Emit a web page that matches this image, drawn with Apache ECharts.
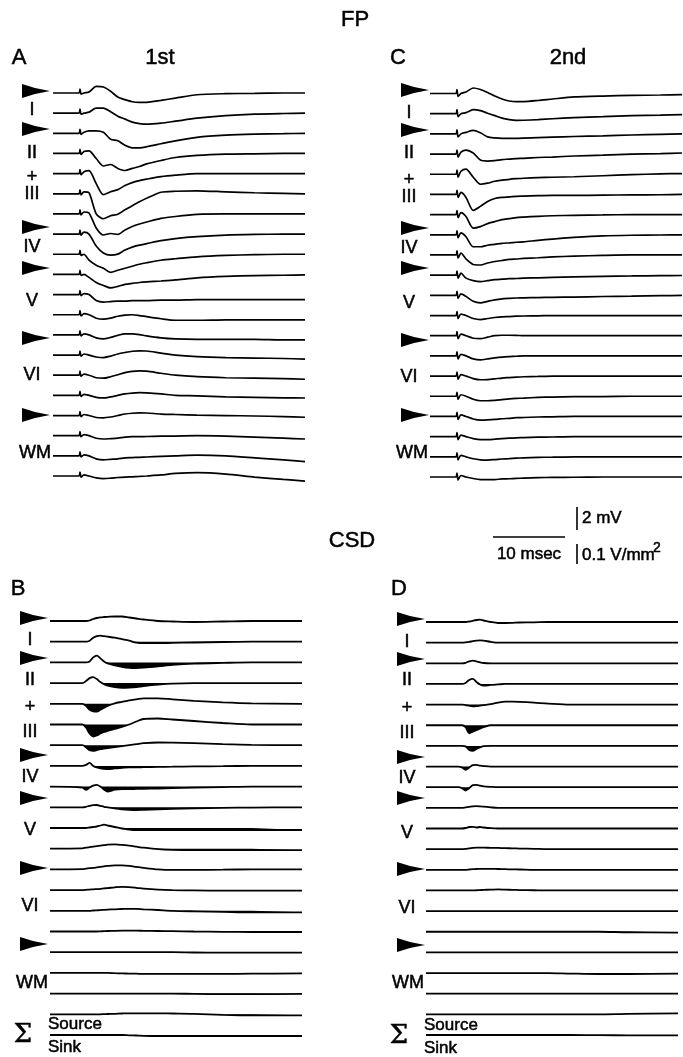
<!DOCTYPE html>
<html><head><meta charset="utf-8">
<script src="https://cdn.jsdelivr.net/npm/echarts@6/dist/echarts.min.js"></script>
<style>html,body{margin:0;padding:0;background:#fff}#c{width:683px;height:1057px}</style>
</head><body><div id="c"></div>
<script>
// ---- time bases (ms from start of sweep) ----
const FP_T  = [0,3.6,3.75,3.9,4.3,5,6,7,8,9,10,11,12,13,15,17,20,24,28,32,35];
const CSD_T = [0,4.5,5,5.5,6,6.5,7,7.5,8,9,10,11,12,13,15,17,20,24,28,35];

// ---- field potentials, 1st stimulus (mV, deviation from baseline), top to bottom ----
const FP_1ST = [
 [0,0,0.35,-0.09,0,0.09,0.57,0.52,0.15,-0.35,-0.58,-0.76,-0.81,-0.81,-0.64,-0.44,-0.15,-0.06,-0.03,0,0],
 [0,0,0.35,-0.09,0,0.09,0.44,0.44,0.13,-0.26,-0.52,-0.78,-0.91,-0.96,-0.87,-0.7,-0.44,-0.22,-0.09,-0.03,0],
 [0,0,0.35,-0.09,0.09,0.22,0.22,0.09,-0.52,-0.65,-1.04,-1.26,-1.26,-1.17,-0.91,-0.65,-0.35,-0.16,-0.07,-0.03,0],
 [0,0,0.35,-0.09,0.17,0.22,-0.44,-1.09,-0.96,-1.3,-1.48,-1.3,-1.13,-0.91,-0.61,-0.35,-0.17,-0.06,-0.03,0,0],
 [0,0,0.35,-0.09,0.17,0.26,-0.87,-1.83,-1.57,-1.39,-1.04,-0.78,-0.61,-0.48,-0.26,-0.13,0,0,0,0,0],
 [0,0,0.35,-0.09,0.17,0.09,-1.74,-2.17,-1.91,-1.78,-1.39,-1.04,-0.7,-0.39,0.13,0.22,0.26,0.17,0.09,0.04,0],
 [0,0,0.35,-0.09,0.17,0.09,-1.22,-1.83,-1.7,-1.78,-1.39,-1.09,-0.87,-0.7,-0.39,-0.22,-0.04,0,0,0,0],
 [0,0,0.35,-0.09,0.17,0,-1.04,-1.65,-1.83,-1.74,-1.39,-1.13,-0.96,-0.83,-0.57,-0.39,-0.22,-0.09,-0.03,0,0],
 [0,0,0.35,-0.09,0,-0.52,-0.96,-1.22,-1.57,-1.39,-1.22,-1.04,-0.87,-0.74,-0.52,-0.39,-0.22,-0.1,-0.04,0,0],
 [0,0,0.35,-0.09,0,-0.26,-0.7,-0.96,-1.17,-1.04,-0.87,-0.78,-0.7,-0.65,-0.57,-0.48,-0.3,-0.17,-0.1,-0.07,-0.04],
 [0,0,0.35,-0.09,0.09,0,-0.52,-0.65,-0.61,-0.57,-0.57,-0.52,-0.52,-0.52,-0.48,-0.48,-0.44,-0.44,-0.44,-0.44,-0.44],
 [0,0,0.35,-0.09,0.09,0,-0.3,-0.39,-0.3,-0.13,-0.03,0,-0.07,-0.17,-0.35,-0.48,-0.48,-0.44,-0.44,-0.44,-0.44],
 [0,0,0.35,-0.09,0.09,0,-0.26,-0.35,-0.22,-0.04,0.09,0.09,0.03,-0.09,-0.26,-0.35,-0.39,-0.39,-0.39,-0.44,-0.44],
 [0,0,0.35,-0.09,0.09,0,-0.17,-0.22,-0.09,0.09,0.22,0.33,0.37,0.35,0.17,0,-0.13,-0.22,-0.26,-0.3,-0.35],
 [0,0,0.35,-0.09,0.09,0,-0.22,-0.26,-0.13,0.04,0.22,0.33,0.37,0.35,0.17,0,-0.13,-0.22,-0.26,-0.3,-0.35],
 [0,0,0.35,-0.09,0.09,0,-0.17,-0.22,-0.13,0,0.13,0.2,0.23,0.22,0.13,0,-0.04,-0.13,-0.17,-0.22,-0.23],
 [0,0,0.35,-0.09,0.09,0,-0.17,-0.2,-0.13,0,0.13,0.2,0.23,0.22,0.13,0.09,0.04,0,-0.04,-0.09,-0.15],
 [0,0,0.35,-0.09,0.09,0,-0.22,-0.29,-0.26,-0.22,-0.13,-0.09,-0.09,-0.07,-0.04,-0.03,0,-0.04,-0.13,-0.22,-0.29],
 [0,0,0.35,-0.09,0.09,0,-0.26,-0.35,-0.3,-0.26,-0.17,-0.15,-0.13,-0.1,-0.04,0,0.06,0,-0.17,-0.35,-0.5],
 [0,0,0.35,-0.09,0.09,0,-0.17,-0.23,-0.19,-0.13,-0.09,-0.07,-0.04,0,0.09,0.22,0.29,0.17,-0.09,-0.3,-0.44]
];

// ---- field potentials, 2nd stimulus (mV) ----
const FP_2ND = [
 [0,0,0.35,-0.26,0,0.13,0.48,0.35,0.09,-0.22,-0.48,-0.65,-0.7,-0.7,-0.61,-0.48,-0.3,-0.22,-0.17,-0.13,-0.09],
 [0,0,0.35,-0.26,0,0.09,0.35,0.26,0.04,-0.17,-0.39,-0.52,-0.58,-0.57,-0.52,-0.44,-0.35,-0.26,-0.17,-0.13,-0.09],
 [0,0,0.35,-0.26,0,0.13,0.3,0.09,-0.26,-0.35,-0.39,-0.39,-0.39,-0.37,-0.32,-0.28,-0.23,-0.17,-0.1,-0.04,0],
 [0,0,0.35,-0.26,0.17,0.35,0.09,-0.52,-0.61,-0.57,-0.48,-0.44,-0.39,-0.37,-0.3,-0.26,-0.17,-0.09,0,0.04,0.09],
 [0,0,0.35,-0.26,0.26,0.44,-0.26,-0.87,-0.78,-0.61,-0.52,-0.44,-0.39,-0.35,-0.3,-0.26,-0.22,-0.13,-0.04,0.03,0.06],
 [0,0,0.35,-0.26,0.17,-0.26,-1.39,-1.04,-0.61,-0.35,-0.26,-0.22,-0.17,-0.15,-0.11,-0.09,-0.09,-0.06,-0.04,-0.03,0],
 [0,0,0.35,-0.26,0.17,-0.17,-1.17,-1.04,-0.78,-0.61,-0.44,-0.35,-0.26,-0.22,-0.15,-0.1,-0.06,-0.03,0,0,0],
 [0,0,0.35,-0.26,0.17,-0.17,-1.04,-1.04,-0.91,-0.83,-0.74,-0.7,-0.65,-0.61,-0.48,-0.37,-0.23,-0.09,-0.04,-0.02,0],
 [0,0,0.35,-0.26,0.17,-0.35,-0.83,-0.87,-0.7,-0.57,-0.48,-0.39,-0.35,-0.3,-0.24,-0.17,-0.1,-0.04,0,0,0],
 [0,0,0.35,-0.26,0.17,-0.26,-0.48,-0.57,-0.48,-0.39,-0.35,-0.31,-0.29,-0.26,-0.23,-0.19,-0.15,-0.1,-0.07,-0.04,-0.03],
 [0,0,0.35,-0.26,0.13,-0.09,-0.52,-0.65,-0.52,-0.39,-0.3,-0.26,-0.23,-0.22,-0.19,-0.17,-0.15,-0.1,-0.07,-0.03,0],
 [0,0,0.35,-0.26,0.13,0,-0.26,-0.35,-0.26,-0.17,-0.11,-0.09,-0.06,-0.04,-0.03,0,0,0,0,0,0],
 [0,0,0.35,-0.26,0.13,0,-0.22,-0.26,-0.13,0,0.04,0.04,0.03,0,0,0,0,0,0,0,0],
 [0,0,0.35,-0.26,0.13,0,-0.26,-0.35,-0.26,-0.17,-0.1,-0.06,-0.03,0,0,0,0,0,0,0,0],
 [0,0,0.35,-0.26,0.13,0,-0.22,-0.32,-0.3,-0.24,-0.17,-0.13,-0.09,-0.06,-0.03,0,0,0,0,0,0],
 [0,0,0.35,-0.26,0.13,0,-0.26,-0.39,-0.39,-0.35,-0.29,-0.23,-0.19,-0.16,-0.1,-0.07,-0.04,-0.03,0,0,0],
 [0,0,0.35,-0.26,0.13,0,-0.22,-0.32,-0.3,-0.26,-0.2,-0.16,-0.11,-0.09,-0.05,-0.03,0,0,0,0,0],
 [0,0,0.35,-0.26,0.13,0,-0.17,-0.26,-0.26,-0.22,-0.17,-0.13,-0.1,-0.09,-0.05,-0.03,0,0,0,0,0],
 [0,0,0.35,-0.26,0.13,0,-0.17,-0.26,-0.28,-0.24,-0.19,-0.16,-0.12,-0.09,-0.05,-0.03,0,0,0,0,0],
 [0,0,0.35,-0.26,0.13,0,-0.13,-0.22,-0.23,-0.22,-0.17,-0.15,-0.12,-0.1,-0.06,-0.03,-0.02,0,0,0,0]
];

// ---- current source density, 1st stimulus (mV/mm^2; + source, - sink) ----
const CSD_1ST = [
 [0,0,0,2.5,10,15,18.5,20,21,22.5,22.5,17.5,12.5,7.5,0,-2.5,-5,-2.5,0,0],
 [0,0,0,5,20,27.5,30,27.5,25,20,12.5,5,-5,-7.5,-7.5,-6,-4,-1.5,0,0],
 [0,0,0,5,25,33.5,20,5,-5,-15,-22.5,-27.5,-28.5,-26.5,-20,-12.5,-6,-2.5,0,0],
 [0,0,10,25,30,20,5,-5,-12.5,-20,-23.5,-22.5,-20,-15,-7.5,-2.5,0,0,0,0],
 [0,0,-10,-30,-37.5,-38.5,-30,-20,-10,2.5,10,17.5,22.5,27.5,27.5,22.5,15,7.5,2.5,0],
 [0,0,-15,-45,-60,-55,-45,-37.5,-32.5,-22.5,-12.5,0,15,27.5,30,25,17.5,7.5,0,0],
 [0,0,-10,-25,-28.5,-25,-20,-17.5,-15,-10,-5,0,5,10,13.5,12.5,10,5,1.5,0],
 [0,0,5,15,0,-7.5,-12.5,-15,-16.5,-12.5,-10,-7.5,-7.5,-6,-5,-4,-2.5,-1.5,0,0],
 [0,-5,-16.5,-5,5,8.5,0,-15,-25,-15,-12.5,-12.5,-11.5,-11,-10,-7.5,-5,-2.5,0,0],
 [0,0,2.5,7.5,11,11.5,7.5,2.5,0,-5,-10,-12.5,-13.5,-12.5,-10,-7.5,-5,-2.5,-1.5,0],
 [0,0,0,2.5,5,7.5,12.5,16.5,12.5,5,-2.5,-7.5,-10,-10,-10,-10,-10,-10,-10,-10],
 [0,1.5,5,7.5,10,12.5,15,17.5,20,21.5,19,15,10,5,-2.5,-6,-7.5,-7.5,-7.5,-7.5],
 [0,1.5,4,6,7.5,10,12.5,15,17.5,20,20,17.5,12.5,7.5,0,-2.5,-2.5,-1.5,0,0],
 [0,0,1.5,2.5,4,5,6.5,8.5,10,14,16.5,15,11.5,7.5,2.5,0,-1.5,-2.5,-2.5,-2.5],
 [0,0,0,0,1.5,2.5,3.5,5,6,7.5,9,10,10,7.5,4,0,-2.5,-5,-7.5,-7.5],
 [0,0,0,0,0,0,1,1.5,2.5,3.5,4,4,4,3.5,2.5,1.5,0,-1.5,-2.5,-2.5],
 [0,0,0,0,0,0,0,0,0,0,0,0,0,0,0,0,-1.5,-2.5,-2.5,-2.5],
 [0,0,0,0,0,0,0,0,0,-1.5,-2.5,-3.5,-4,-5,-5,-5,-5,-5,-4,-2.5],
 [0,0,0,0,0,0,0,0,0,0,0,0,0,0,0,0,-1.5,-2.5,-2.5,-1.5],
 [0,0,0,0,0,0,0,1,1.5,2.5,4,5,5,5,5,4,2.5,-2.5,-5,-5]
];
const SUM_1ST = [0,0,0,0,0,0,0,0,0,0,0,-1.5,-2.5,-4,-5,-5,-5,-5,-5,-5];

// ---- current source density, 2nd stimulus (mV/mm^2) ----
const CSD_2ND = [
 [0,0,0,0,2.5,6,10,11.5,7.5,0,-5,-5,-4,-2.5,-1.5,0,0,0,0,0],
 [0,0,0,1.5,4,7.5,10,11.5,10,4,0,0,0,0,0,0,0,0,0,0],
 [0,0,0,2.5,10,13.5,10,5,1.5,0,0,0,0,0,0,0,0,0,0,0],
 [0,0,0,5,20,25,10,-2.5,-8.5,-5,-2.5,0,0,0,0,0,0,0,0,0],
 [0,0,0,-2.5,-6,-8.5,-7.5,-5,-2.5,2.5,10,15,15,14,10,5,0,0,0,0],
 [0,0,0,-10,-40,-32.5,-25,-17.5,-10,0,0,0,0,0,0,0,0,0,0,0],
 [0,0,0,-2.5,-20,-25,-15,-7.5,-1.5,0,0,0,0,0,0,0,0,0,0,0],
 [0,0,-5,-16.5,-5,7.5,8.5,5,2.5,0,0,0,0,0,0,0,0,0,0,0],
 [0,0,-5,-16.5,-5,10,11.5,7.5,4,1.5,0,0,0,0,0,0,0,0,0,0],
 [0,0,0,2.5,5,7.5,8.5,7.5,6,2.5,0,0,0,0,0,0,0,0,0,0],
 [0,0,0,2.5,7.5,8.5,5,7.5,5,1.5,0,0,0,0,0,0,0,0,0,0],
 [0,0,0,1.5,4,6,7.5,7.5,7.5,6.5,6,5,4,3,1.5,0,0,0,0,0],
 [0,0,0,0,1.5,3,4,5,5,5,4,3,2,1.5,0,0,0,0,0,0],
 [0,0,0,0,0,0,1,2,3,4,5,4,3,2,1,0,0,0,0,0],
 [0,0,0,0,0,0,0,0,0,0,0,0,0,0,0,0,0,0,0,0],
 [0,0,0,0,0,0,0,0,0,0,0,0,0,0,0,0,0,0,-2.5,-4],
 [0,0,0,0,0,0,0,0,0,0,0,0,0,0,0,0,0,0,0,0],
 [0,0,0,0,0,0,0,0,0,0,0,0,0,0,0,0,-2.5,-5,-5,-2.5],
 [0,0,0,0,0,0,0,0,0,0,0,0,0,0,0,0,0,0,0,0],
 [0,0,0,0,0,0,0,0,0,0,0,0,0,0,0,0,0,0,2.5,5]
];
const SUM_2ND = [0,0,0,0,0,0,0,0,0,0,0,0,0,0,0,0,0,-1,-1.5,-1.5];

// ---- layer labels (text) ----
const LAYER_LABELS = ['\u25B6','I','\u25B6','II','+','III','\u25B6','IV','\u25B6','V','\u25B6','VI','\u25B6','WM'];
const SCALE = {fpMv: 2, timeMs: 10, csd: 100};

// ================= layout & rendering =================
const FONT = '"Liberation Sans", Arial, Helvetica, sans-serif';
const PX_PER_MS = 7.2, PX_PER_MV = 11.5, PX_PER_CSD = 0.2, SWEEP = 35;
const panels = [
 {traces: FP_1ST, t: FP_T, left: 53, first: 93, last: 476, k: PX_PER_MV, half: 34, fill: false, lw: 1.7,
  labelY: [91,110,129,153,177,194,227,247,268,301,338,375,415,453], lx: -21, ax: -31},
 {traces: FP_2ND, t: FP_T, left: 430, first: 93.5, last: 477, k: PX_PER_MV, half: 34, fill: false, lw: 1.7,
  labelY: [90,113,130,153,180,197,228,248,268,303,340,377,415,453], lx: -21, ax: -29},
 {traces: CSD_1ST.concat([SUM_1ST]), t: CSD_T, left: 50, first: 621, last: 1035, k: PX_PER_CSD, half: 18, fill: true, lw: 1.8,
  labelY: [618,640,658,680,707,732,755,777,798,830,868,906,944,983], lx: -20, ax: -30, sigma: 1035},
 {traces: CSD_2ND.concat([SUM_2ND]), t: CSD_T, left: 426, first: 622, last: 1035, k: PX_PER_CSD, half: 18, fill: true, lw: 1.8,
  labelY: [619,642,659,680,708,733,757,778,798,833,869,908,945,983], lx: -19, ax: -29, sigma: 1036}
];

const grid = [], xAxis = [], yAxis = [], series = [], graphic = [];
function txt(x, y, s, size, align, family) {
  graphic.push({type: 'text', x: x, y: y, silent: true, style: {
    text: s, fill: '#000', stroke: '#000', lineWidth: 0.5, font: size + 'px ' + (family || FONT),
    align: align || 'center', verticalAlign: 'middle', textAlign: align || 'center', textVerticalAlign: 'middle'}});
}
function line(x1, y1, x2, y2) {
  graphic.push({type: 'line', silent: true, shape: {x1: x1, y1: y1, x2: x2, y2: y2}, style: {stroke: '#000', lineWidth: 1.6}});
}
panels.forEach(p => {
  const n = p.traces.length;
  const step = (p.last - p.first) / (n - 1);
  p.traces.forEach((v, i) => {
    const y0 = p.first + i * step;
    const gi = grid.length;
    grid.push({left: p.left, top: y0 - p.half, width: SWEEP * PX_PER_MS, height: 2 * p.half,
      containLabel: false, outerBoundsMode: 'none'});
    xAxis.push({type: 'value', gridIndex: gi, min: 0, max: SWEEP, show: false});
    const r = p.half / p.k;
    yAxis.push({type: 'value', gridIndex: gi, min: -r, max: r, show: false});
    if (p.fill) {
      series.push({type: 'line', xAxisIndex: gi, yAxisIndex: gi, silent: true, animation: false, z: 2,
        data: p.t.map((tt, j) => [tt, Math.min(0, v[j])]), smooth: 0.3, showSymbol: false, symbol: 'none',
        lineStyle: {width: 0, opacity: 0}, areaStyle: {color: '#000', opacity: 1}});
    }
    series.push({type: 'line', xAxisIndex: gi, yAxisIndex: gi, silent: true, animation: false, z: 3,
      data: p.t.map((tt, j) => [tt, v[j]]), smooth: p.fill ? 0.3 : 0.25, showSymbol: false, symbol: 'none',
      lineStyle: {color: '#000', width: p.lw}});
  });
  // labels
  LAYER_LABELS.forEach((s, j) => {
    const y = p.labelY[j];
    if (s === '\u25B6') {
      const x0 = p.left + p.ax;
      graphic.push({type: 'polygon', silent: true, shape: {points: [[x0, y - 7], [x0 + 13, y - 3], [x0 + 28, y], [x0 + 13, y + 3], [x0, y + 7]]}, style: {fill: '#000'}});
    } else if (s === 'WM') {
      txt(p.left - 2, y, s, 18, 'right');
    } else {
      txt(p.left + p.lx, y, s, 18);
    }
  });
  if (p.sigma) {
    txt(p.left - 27, p.sigma, '\u03A3', 26, 'center', '"DejaVu Serif", serif');
    txt(p.left - 2, p.sigma - 11, 'Source', 17, 'left');
    txt(p.left - 2, p.sigma + 12, 'Sink', 17, 'left');
  }
});

// titles
txt(355, 20, 'FP', 22);
txt(352, 541, 'CSD', 22);
txt(19, 58, 'A', 22);
txt(160, 58, '1st', 22);
txt(398, 58, 'C', 22);
txt(568, 58, '2nd', 22);
txt(18, 589, 'B', 22);
txt(399, 589, 'D', 22);

// scale bars
const sbX = 577, sbTop = 507;
line(sbX, sbTop, sbX, sbTop + SCALE.fpMv * PX_PER_MV);
txt(sbX + 5, sbTop + SCALE.fpMv * PX_PER_MV / 2, SCALE.fpMv + ' mV', 17, 'left');
line(493, 537, 493 + SCALE.timeMs * PX_PER_MS, 537);
txt(493 + SCALE.timeMs * PX_PER_MS / 2, 554, SCALE.timeMs + ' msec', 17);
line(sbX, 544, sbX, 544 + SCALE.csd * PX_PER_CSD);
txt(sbX + 5, 555, '0.1 V/mm', 17, 'left');
txt(sbX + 76, 548, '2', 14, 'left');

const chart = echarts.init(document.getElementById('c'), null, {renderer: 'canvas', width: 683, height: 1057});
chart.setOption({animation: false, backgroundColor: '#fff', grid, xAxis, yAxis, series, graphic});
</script>
</body></html>
